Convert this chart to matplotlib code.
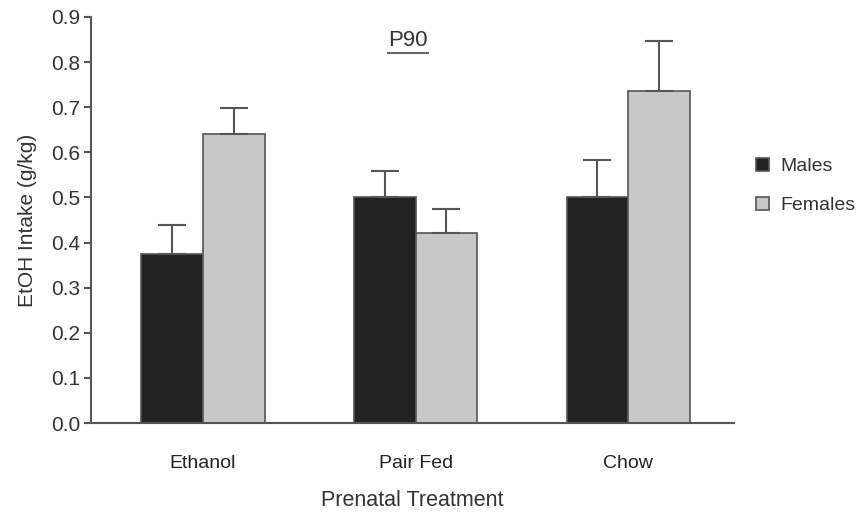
import matplotlib
matplotlib.use("Agg")
import matplotlib.pyplot as plt
import numpy as np
from matplotlib.lines import Line2D

categories = ["Ethanol", "Pair Fed", "Chow"]
males = [0.374, 0.502, 0.502]
males_err = [0.066, 0.057, 0.080]
females = [0.641, 0.422, 0.737]
females_err = [0.058, 0.053, 0.110]
yticks = [0.0, 0.1, 0.2, 0.3, 0.4, 0.5, 0.6, 0.7, 0.8, 0.9]

plt.rcParams['font.family'] = ['Liberation Sans', 'DejaVu Sans']

fig = plt.figure(figsize=(8.56, 5.15), dpi=100)
ax = fig.add_axes([0.1063, 0.1786, 0.8575 - 0.1063, 0.967 - 0.1786])

x = np.arange(len(categories))
w = 0.29
edge = '#555555'
ekw = dict(ecolor=edge, elinewidth=1.5, capthick=1.5)
ax.bar(x - w / 2, males, w, color='#222222', edgecolor=edge, linewidth=1.2,
       yerr=[np.zeros(3), males_err], capsize=10, error_kw=ekw, label='Males', zorder=2)
ax.bar(x + w / 2, females, w, color='#c8c8c8', edgecolor=edge, linewidth=1.2,
       yerr=[np.zeros(3), females_err], capsize=10, error_kw=ekw, label='Females', zorder=2)

ax.set_xlim(-0.526, 2.497)
ax.set_ylim(0, 0.9)
ax.set_yticks(yticks)
ax.set_yticklabels([f"{v:.1f}" for v in yticks])
ax.set_xticks(x)
ax.set_xticklabels(categories)

for s in ['top', 'right']:
    ax.spines[s].set_visible(False)
for s in ['left', 'bottom']:
    ax.spines[s].set_color(edge)
    ax.spines[s].set_linewidth(1.5)

ax.tick_params(axis='y', length=5, width=1.5, color=edge, labelsize=15, labelcolor='#333333', pad=3)
ax.tick_params(axis='x', length=0, labelsize=14, labelcolor='#222222', pad=23)

ax.set_ylabel("EtOH Intake (g/kg)", fontsize=15, color='#333333', labelpad=10)
ax.set_xlabel("Prenatal Treatment", fontsize=15.5, color='#333333', labelpad=13)

# title with underline
t = fig.text(408 / 856, 1 - 41 / 515, "P90", fontsize=16, color='#333333',
             ha='center', va='center')
fig.canvas.draw()
bb = t.get_window_extent(fig.canvas.get_renderer())
uy = 1 - 53 / 515
fig.add_artist(Line2D([bb.x0 / 856, bb.x1 / 856], [uy, uy], transform=fig.transFigure,
                      color='#666666', linewidth=1.5))

leg = ax.legend(loc='upper left', bbox_to_anchor=(756 / 856, 1 - 158 / 515),
                bbox_transform=fig.transFigure, frameon=False, fontsize=14,
                handlelength=0.65, handleheight=0.65, handletextpad=0.6,
                labelspacing=1.1, borderaxespad=0, borderpad=0)
for txt in leg.get_texts():
    txt.set_color('#333333')

fig.savefig("out.png", dpi=100)
